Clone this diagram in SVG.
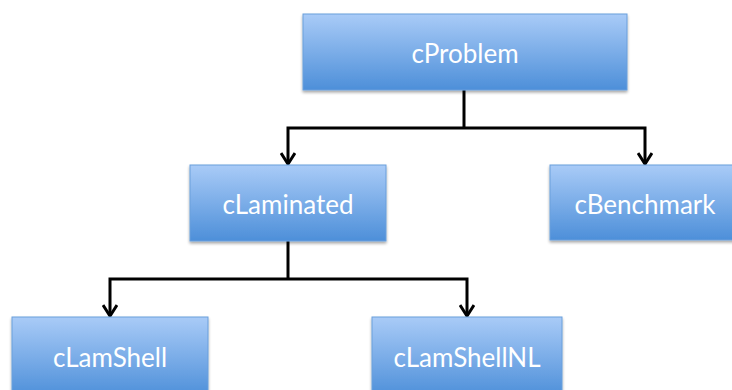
<svg xmlns="http://www.w3.org/2000/svg" width="732" height="390" viewBox="0 0 732 390">
  <defs>
    <linearGradient id="boxFill" x1="0" y1="0" x2="0" y2="1">
      <stop offset="0" stop-color="#a9cbf7"/>
      <stop offset="1" stop-color="#4d8fd9"/>
    </linearGradient>
    <filter id="shadow" x="-10%" y="-10%" width="120%" height="130%">
      <feGaussianBlur in="SourceAlpha" stdDeviation="1.5"/>
      <feOffset dx="0" dy="2" result="b"/>
      <feComponentTransfer><feFuncA type="linear" slope="0.35"/></feComponentTransfer>
      <feMerge><feMergeNode/><feMergeNode in="SourceGraphic"/></feMerge>
    </filter>
    <!-- open chevron head, drawn along +x so orient="auto" points it down the line -->
    <marker id="arrow" viewBox="0 0 14 16" refX="12" refY="8" markerWidth="14" markerHeight="16" markerUnits="userSpaceOnUse" orient="auto">
      <path d="M1,1 L12,8 L1,15" fill="none" stroke="#000" stroke-width="3"/>
    </marker>
  </defs>
  <style>
    .box { fill: url(#boxFill); stroke: #6b9fdc; stroke-width: 1; filter: url(#shadow); }
    .label { font-family: Lato, "Open Sans", sans-serif; font-size: 26px; fill: #ffffff; text-anchor: middle; }
    .conn { fill: none; stroke: #000; stroke-width: 3; stroke-linejoin: miter; }
  </style>

  <g id="connectors">
    <path class="conn" d="M464,90 V128"/>
    <path class="conn" d="M464,128 H288 V164" marker-end="url(#arrow)"/>
    <path class="conn" d="M464,128 H645 V164" marker-end="url(#arrow)"/>
    <path class="conn" d="M288,241 V279"/>
    <path class="conn" d="M288,279 H110 V316" marker-end="url(#arrow)"/>
    <path class="conn" d="M288,279 H467 V316" marker-end="url(#arrow)"/>
  </g>

  <g id="cProblem">
    <rect class="box" x="303" y="14" width="324" height="76"/>
    <text class="label" x="465" y="63">cProblem</text>
  </g>
  <g id="cLaminated">
    <rect class="box" x="190" y="165" width="196" height="76"/>
    <text class="label" x="288" y="214">cLaminated</text>
  </g>
  <g id="cBenchmark">
    <rect class="box" x="550" y="165" width="190" height="75"/>
    <text class="label" x="645" y="214">cBenchmark</text>
  </g>
  <g id="cLamShell">
    <rect class="box" x="12" y="317" width="196" height="80"/>
    <text class="label" x="110" y="367">cLamShell</text>
  </g>
  <g id="cLamShellNL">
    <rect class="box" x="372" y="317" width="190" height="80"/>
    <text class="label" x="467" y="367">cLamShellNL</text>
  </g>
</svg>
